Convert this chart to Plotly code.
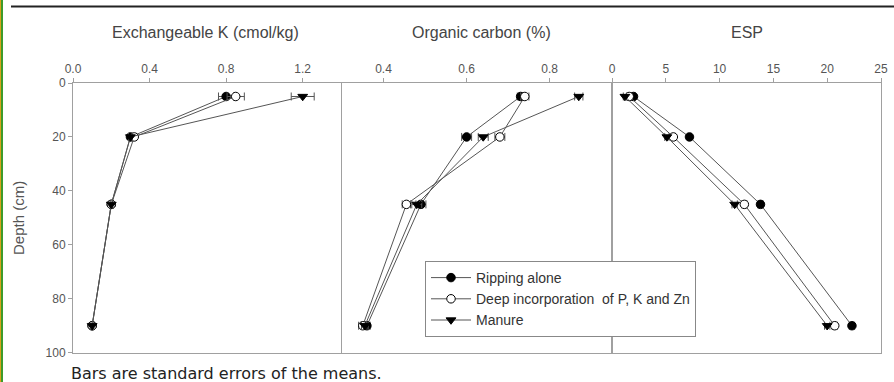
import plotly.graph_objects as go

W, H = 894, 382

depth = [5, 20, 45, 90]

series_names = ["Ripping alone", "Deep incorporation\u00a0 of P, K and Zn", "Manure"]

k_rip = [0.80, 0.30, 0.20, 0.10]
k_deep = [0.85, 0.32, 0.20, 0.10]
k_man = [1.20, 0.30, 0.20, 0.10]
k_rip_se = [0.04, 0.01, 0.006, 0.006]
k_deep_se = [0.045, 0.012, 0.006, 0.006]
k_man_se = [0.06, 0.01, 0.006, 0.006]

oc_rip = [0.73, 0.60, 0.49, 0.36]
oc_deep = [0.74, 0.68, 0.455, 0.35]
oc_man = [0.87, 0.64, 0.48, 0.355]
oc_rip_se = [0.008, 0.012, 0.012, 0.008]
oc_deep_se = [0.01, 0.012, 0.01, 0.01]
oc_man_se = [0.01, 0.012, 0.012, 0.008]

esp_rip = [2.0, 7.2, 13.8, 22.3]
esp_deep = [1.6, 5.7, 12.3, 20.7]
esp_man = [1.2, 5.1, 11.4, 20.0]
esp_rip_se = [0.15, 0.2, 0.25, 0.25]
esp_deep_se = [0.15, 0.2, 0.25, 0.25]
esp_man_se = [0.15, 0.2, 0.25, 0.25]

panel_titles = ["Exchangeable K (cmol/kg)", "Organic carbon (%)", "ESP"]
k_ticks = [0.0, 0.4, 0.8, 1.2]
k_ticktext = ["0.0", "0.4", "0.8", "1.2"]
oc_ticks = [0.4, 0.6, 0.8]
oc_ticktext = ["0.4", "0.6", "0.8"]
esp_ticks = [0, 5, 10, 15, 20, 25]
depth_ticks = [0, 20, 40, 60, 80, 100]

markers = [
    dict(symbol="circle", size=8.5, color="black", line=dict(color="black", width=1)),
    dict(symbol="circle", size=8.5, color="white", line=dict(color="black", width=1)),
    dict(symbol="triangle-down", size=8.5, color="black", line=dict(color="black", width=1)),
]

fig = go.Figure()

panels = [
    ("x", [k_rip, k_deep, k_man], [k_rip_se, k_deep_se, k_man_se]),
    ("x2", [oc_rip, oc_deep, oc_man], [oc_rip_se, oc_deep_se, oc_man_se]),
    ("x3", [esp_rip, esp_deep, esp_man], [esp_rip_se, esp_deep_se, esp_man_se]),
]
yrefs = ["y", "y2", "y3"]

for pi, (xa, vals, ses) in enumerate(panels):
    for si in range(3):
        fig.add_trace(go.Scatter(
            x=vals[si], y=depth, mode="lines+markers",
            name=series_names[si], legendgroup=series_names[si],
            showlegend=(pi == 0),
            line=dict(color="#555555", width=1),
            marker=markers[si],
            error_x=dict(type="data", array=ses[si], color="#555555", thickness=1, width=4),
            xaxis=xa, yaxis=yrefs[pi],
        ))

def px_x(p):
    return p / W

def px_y(p):
    return 1 - p / H

ydom = [px_y(352.7), px_y(83)]
axis_common = dict(showline=True, linecolor="#a0a0a0", linewidth=1, mirror=True, automargin=False,
                   showgrid=False, zeroline=False, ticks="outside", ticklen=4,
                   tickcolor="#a0a0a0", tickfont=dict(family="Liberation Sans, Arial", size=12, color="#555555"))
axis_noticks = {k: v for k, v in axis_common.items() if k != "ticks"}

fig.update_layout(
    width=W, height=H, margin=dict(l=0, r=0, t=0, b=0, pad=0, autoexpand=False),
    plot_bgcolor="white", paper_bgcolor="white",
    xaxis=dict(domain=[px_x(73), px_x(341)], range=[0, 1.4], side="top", anchor="y",
               tickvals=k_ticks, ticktext=k_ticktext, **axis_common),
    xaxis2=dict(domain=[px_x(342), px_x(612)], range=[0.3, 0.95], side="top", anchor="y2",
                tickvals=oc_ticks, ticktext=oc_ticktext, **axis_common),
    xaxis3=dict(domain=[px_x(612), px_x(881)], range=[0, 25], side="top", anchor="y3",
                tickvals=esp_ticks, **axis_common),
    yaxis=dict(domain=ydom, range=[100, 0], anchor="x", tickvals=depth_ticks, **axis_common),
    yaxis2=dict(domain=ydom, range=[100, 0], anchor="x2", showticklabels=False, ticks="", **axis_noticks),
    yaxis3=dict(domain=ydom, range=[100, 0], anchor="x3", showticklabels=False, ticks="", **axis_noticks),
    legend=dict(x=px_x(425), y=px_y(261), xanchor="left", yanchor="top",
                bordercolor="#888888", borderwidth=1, bgcolor="white",
                font=dict(family="Liberation Sans, Arial", size=14, color="#333333"),
                tracegroupgap=0, itemwidth=40),
    showlegend=True,
)

title_x = [205, 481, 747]
for t, xp in zip(panel_titles, title_x):
    fig.add_annotation(text=t, x=px_x(xp), y=px_y(33), xref="paper", yref="paper",
                       showarrow=False, xanchor="center", yanchor="middle",
                       font=dict(family="Liberation Sans, Arial", size=16, color="#444444"))

fig.add_annotation(text="Depth (cm)", x=px_x(18), y=px_y(218), xref="paper", yref="paper",
                   showarrow=False, textangle=-90, xanchor="center", yanchor="middle",
                   font=dict(family="Liberation Sans, Arial", size=15, color="#555555"))

fig.add_annotation(text="Bars are standard errors of the means.", x=px_x(69), y=px_y(373),
                   xref="paper", yref="paper", showarrow=False, xanchor="left", yanchor="middle",
                   font=dict(family="DejaVu Sans", size=16, color="#222222"))

# frame decorations
fig.add_shape(type="line", xref="paper", yref="paper", x0=px_x(11), x1=1, y0=px_y(6.5), y1=px_y(6.5),
              line=dict(color="#222222", width=2))
fig.add_shape(type="rect", xref="paper", yref="paper", x0=0, x1=px_x(1), y0=0, y1=1,
              fillcolor="#d9a21b", line=dict(width=0))
fig.add_shape(type="rect", xref="paper", yref="paper", x0=px_x(1), x1=px_x(3), y0=0, y1=1,
              fillcolor="#3e9b2a", line=dict(width=0))

post = (
    "document.documentElement.style.margin='0';document.body.style.margin='0';"
    "document.documentElement.style.overflow='hidden';document.body.style.overflow='hidden';"
    "var d=document.getElementById('{plot_id}');d.style.position='fixed';d.style.left='0';d.style.top='0';"
)

fig.write_html("out.html", post_script=post, config={"displayModeBar": False})
